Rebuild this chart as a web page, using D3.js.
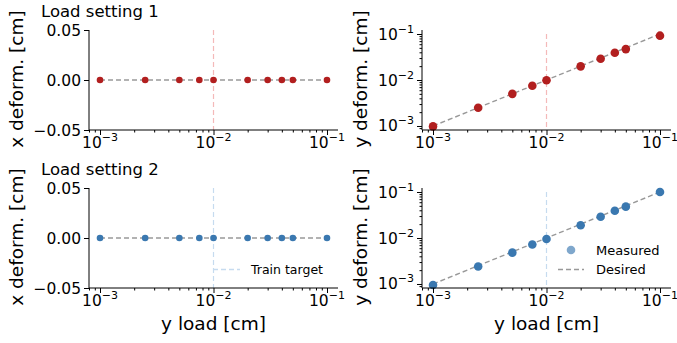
<!DOCTYPE html>
<html lang="en">
<head>
<meta charset="UTF-8">
<title>Load settings</title>
<script src="https://d3js.org/d3.v7.min.js"></script>
<style>
  body { margin: 0; background: #fff; }
  svg text { font-family: "DejaVu Sans", sans-serif; fill: #000; }
  .domain, .tick line { stroke: #000; }
</style>
</head>
<body>
<div id="chart"></div>
<script>
// data
var loads = [0.001, 0.0025, 0.005, 0.0075, 0.01, 0.02, 0.03, 0.04, 0.05, 0.1];
var xDef1 = [0, 0, 0, 0, 0, 0, 0, 0, 0, 0];
var yDef1 = [0.00098, 0.0025, 0.005, 0.0075, 0.0099, 0.0198, 0.029, 0.039, 0.047, 0.092];
var xDef2 = [0, 0, 0, 0, 0, 0, 0, 0, 0, 0];
var yDef2 = [0.00095, 0.0024, 0.0048, 0.0072, 0.0095, 0.019, 0.029, 0.039, 0.048, 0.1];
var trainTarget = 0.01;
var titles = ["Load setting 1", "Load setting 2"];
var logTicks = [1e-3, 1e-2, 1e-1];
var linTicks = [-0.05, 0, 0.05];

var W = 677, H = 343;
var colors = ["#b21f1f", "#3a78b0"];
var lightColors = ["#f4b9b9", "#c6dbef"];

var svg = d3.select("#chart").append("svg")
    .attr("width", W).attr("height", H);

var rows = [{top: 30, bottom: 130}, {top: 188, bottom: 288}];
var cols = [{left: 89, right: 338}, {left: 422, right: 671}];

function minorTicks(domain) {
    var out = [];
    for (var e = -5; e <= 0; e++) {
        for (var m = 2; m <= 9; m++) {
            var v = m * Math.pow(10, e);
            if (v >= domain[0] && v <= domain[1]) out.push(v);
        }
    }
    return out;
}

function expLabel(sel, v) {
    var p = Math.round(Math.log10(v));
    sel.text("10");
    sel.append("tspan").attr("dy", -7).attr("font-size", "11px")
        .text((p < 0 ? "\u2212" : "") + Math.abs(p));
}

var xDom = [Math.pow(10, -3.097), Math.pow(10, -0.903)];
var yLogDom = [Math.pow(10, -3.087), Math.pow(10, -0.913)];

var datasets = [[xDef1, yDef1], [xDef2, yDef2]];

rows.forEach(function(r, ri) {
    cols.forEach(function(c, ci) {
        var g = svg.append("g");
        var x = d3.scaleLog().domain(xDom).range([c.left, c.right]);
        var y = ci === 0
            ? d3.scaleLinear().domain([-0.05, 0.05]).range([r.bottom, r.top])
            : d3.scaleLog().domain(yLogDom).range([r.bottom, r.top]);
        var vals = datasets[ri][ci];

        // train target line
        g.append("line")
            .attr("x1", x(trainTarget)).attr("x2", x(trainTarget))
            .attr("y1", ci === 0 ? y(0.05) : y(0.1)).attr("y2", r.bottom)
            .attr("stroke", lightColors[ri]).attr("stroke-width", 1.2)
            .attr("stroke-dasharray", "5,3");

        // desired line
        var desired = ci === 0 ? [0, 0] : [loads[0], loads[loads.length - 1]];
        g.append("line")
            .attr("x1", x(loads[0])).attr("x2", x(loads[loads.length - 1]))
            .attr("y1", y(desired[0])).attr("y2", y(desired[1]))
            .attr("stroke", "#999").attr("stroke-width", 1.4)
            .attr("stroke-dasharray", "5,3");

        // measured points
        g.selectAll("circle.pt").data(loads).enter().append("circle")
            .attr("class", "pt")
            .attr("cx", function(d) { return x(d); })
            .attr("cy", function(d, i) { return y(vals[i]); })
            .attr("r", ci === 0 ? 3.3 : 4.3)
            .attr("fill", colors[ri]);

        // x axis
        var xa = g.append("g").attr("transform", "translate(0," + r.bottom + ")");
        xa.call(d3.axisBottom(x).tickValues(minorTicks(xDom)).tickSize(2.5).tickFormat(function() { return ""; }));
        xa.select(".domain").remove();
        var xb = g.append("g").attr("transform", "translate(0," + r.bottom + ")");
        xb.call(d3.axisBottom(x).tickValues(logTicks).tickSize(5).tickSizeOuter(0).tickFormat(function() { return ""; }));
        xb.select(".domain").attr("d", "M" + c.left + ",0H" + c.right);
        logTicks.forEach(function(v) {
            var t = g.append("text").attr("x", x(v)).attr("y", r.bottom + 18)
                .attr("text-anchor", "middle").attr("font-size", "15.5px");
            expLabel(t, v);
        });

        // y axis
        var ya = g.append("g").attr("transform", "translate(" + c.left + ",0)");
        if (ci === 0) {
            ya.call(d3.axisLeft(y).tickValues(linTicks).tickSize(5).tickSizeOuter(0).tickFormat(function() { return ""; }));
            linTicks.forEach(function(v) {
                g.append("text").attr("x", c.left - 8).attr("y", y(v) + 5.5)
                    .attr("text-anchor", "end").attr("font-size", "15.5px")
                    .text(d3.format(".2f")(v).replace("-", "\u2212"));
            });
        } else {
            var ym = g.append("g").attr("transform", "translate(" + c.left + ",0)");
            ym.call(d3.axisLeft(y).tickValues(minorTicks(yLogDom)).tickSize(2.5).tickFormat(function() { return ""; }));
            ym.select(".domain").remove();
            ya.call(d3.axisLeft(y).tickValues(logTicks).tickSize(5).tickSizeOuter(0).tickFormat(function() { return ""; }));
            logTicks.forEach(function(v) {
                var t = g.append("text").attr("x", c.left - 8).attr("y", y(v) + 5.5)
                    .attr("text-anchor", "end").attr("font-size", "15.5px");
                expLabel(t, v);
            });
        }
        ya.select(".domain").attr("d", "M0," + r.bottom + "V" + r.top);

        // y label
        var ly = (r.top + r.bottom) / 2 - 1;
        var lx = ci === 0 ? 23 : 367;
        g.append("text")
            .attr("transform", "translate(" + lx + "," + ly + ")rotate(-90)")
            .attr("text-anchor", "middle").attr("font-size", "18.5px")
            .text(ci === 0 ? "x deform. [cm]" : "y deform. [cm]");

        // x label on bottom row
        if (ri === 1) {
            g.append("text").attr("x", x(trainTarget)).attr("y", 330)
                .attr("text-anchor", "middle").attr("font-size", "18.5px")
                .text("y load [cm]");
        }
    });

    // row title
    svg.append("text").attr("x", 41).attr("y", r.top - 13)
        .attr("font-size", "16.5px").text(titles[ri]);
});

// legend: train target (bottom-left)
var lg1 = svg.append("g");
lg1.append("line").attr("x1", 213).attr("x2", 240).attr("y1", 269.5).attr("y2", 269.5)
    .attr("stroke", lightColors[1]).attr("stroke-width", 1.4).attr("stroke-dasharray", "5,3");
lg1.append("text").attr("x", 251).attr("y", 274).attr("font-size", "12.5px").text("Train target");

// legend: measured / desired (bottom-right)
var lg2 = svg.append("g");
lg2.append("circle").attr("cx", 571).attr("cy", 250).attr("r", 4.3)
    .attr("fill", colors[1]).attr("opacity", 0.65);
lg2.append("text").attr("x", 596).attr("y", 255).attr("font-size", "13px").text("Measured");
lg2.append("line").attr("x1", 558).attr("x2", 584).attr("y1", 269.5).attr("y2", 269.5)
    .attr("stroke", "#999").attr("stroke-width", 1.4).attr("stroke-dasharray", "5,3");
lg2.append("text").attr("x", 596).attr("y", 274).attr("font-size", "13px").text("Desired");
</script>
</body>
</html>
